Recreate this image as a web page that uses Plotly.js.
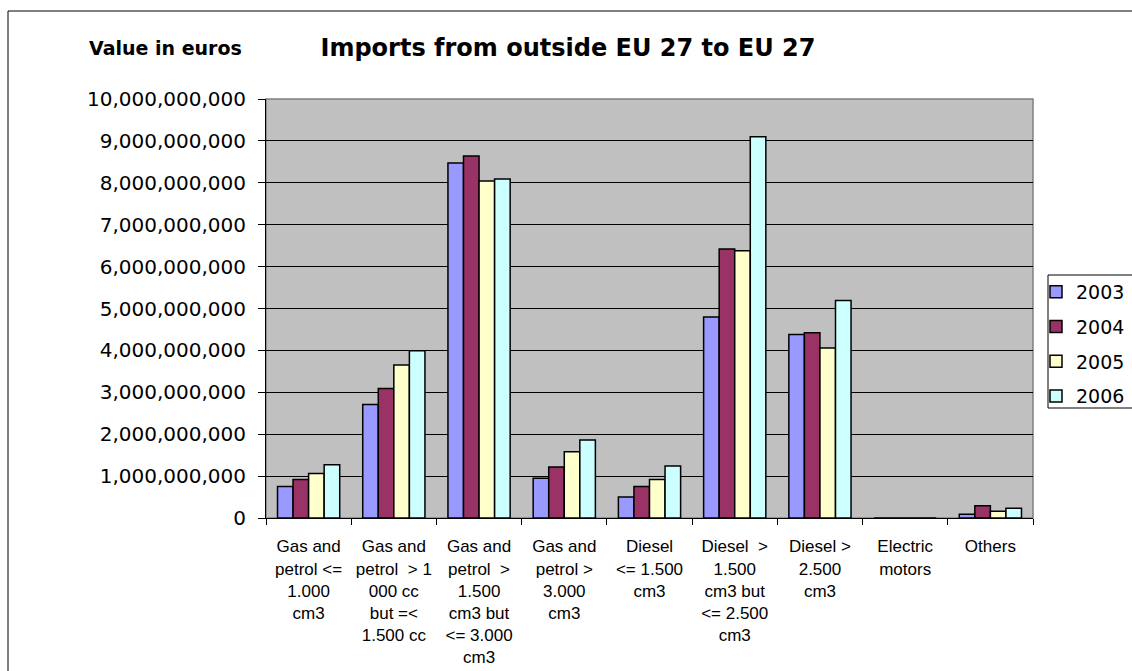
<!DOCTYPE html>
<html>
<head>
<meta charset="utf-8">
<script src="https://cdn.plot.ly/plotly-3.0.1.min.js"></script>
<style>
html,body{margin:0;padding:0;background:#fff;}
#chart{width:1132px;height:671px;}
</style>
</head>
<body>
<div id="chart"></div>
<script>
var categories = [
  "Gas and<br>petrol &lt;=<br>1.000<br>cm3",
  "Gas and<br>petrol  &gt; 1<br>000 cc<br>but =&lt;<br>1.500 cc",
  "Gas and<br>petrol  &gt;<br>1.500<br>cm3 but<br>&lt;= 3.000<br>cm3",
  "Gas and<br>petrol &gt;<br>3.000<br>cm3",
  "Diesel<br>&lt;= 1.500<br>cm3",
  "Diesel  &gt;<br>1.500<br>cm3 but<br>&lt;= 2.500<br>cm3",
  "Diesel &gt;<br>2.500<br>cm3",
  "Electric<br>motors",
  "Others"
];
var years = ["2003", "2004", "2005", "2006"];
var values2003 = [750000000, 2710000000, 8470000000, 950000000, 500000000, 4800000000, 4380000000, 0, 90000000];
var values2004 = [920000000, 3090000000, 8640000000, 1220000000, 750000000, 6420000000, 4420000000, 0, 290000000];
var values2005 = [1060000000, 3650000000, 8040000000, 1580000000, 920000000, 6380000000, 4060000000, 0, 160000000];
var values2006 = [1270000000, 3990000000, 8090000000, 1860000000, 1240000000, 9100000000, 5190000000, 0, 230000000];
var colors = ["#9999FF", "#993366", "#FFFFCC", "#CCFFFF"];

var series = [values2003, values2004, values2005, values2006];
var traces = series.map(function (vals, i) {
  return {
    type: "bar",
    name: years[i],
    x: categories,
    y: vals,
    legendgroup: "g" + i,
    marker: { color: colors[i], line: { color: "#000000", width: 1.5 } },
    hoverinfo: "x+y+name"
  };
});

var L = 266, R = 1033, T = 99, B = 518, W = 1132, H = 671;
function px(x) { return (x - L) / (R - L); }
function py(y) { return (B - y) / (B - T); }

var layout = {
  width: W, height: H,
  margin: { l: L, r: W - R, t: T, b: H - B, autoexpand: false },
  paper_bgcolor: "#ffffff",
  plot_bgcolor: "#C0C0C0",
  font: { family: "DejaVu Sans, Arial, sans-serif", color: "#000000" },
  barmode: "group",
  bargap: 0.27,
  bargroupgap: 0,
  showlegend: true,
  title: {
    text: "<b>Imports from outside EU 27 to EU 27</b>",
    font: { family: "DejaVu Sans, Arial, sans-serif", size: 24, color: "#000000" },
    x: 568 / W, xanchor: "center",
    y: 1 - 48 / H, yanchor: "middle"
  },
  xaxis: {
    type: "category",
    tickson: "boundaries",
    ticks: "outside",
    ticklen: 6,
    tickcolor: "#000000",
    showline: true,
    linecolor: "#000000",
    linewidth: 1,
    showgrid: false,
    ticklabelstandoff: 13,
    tickfont: { family: "Liberation Sans, Arial, sans-serif", size: 17, color: "#000000" },
    tickangle: 0,
    fixedrange: true
  },
  yaxis: {
    range: [0, 10000000000],
    dtick: 1000000000,
    tick0: 0,
    tickformat: ",d",
    ticks: "outside",
    ticklen: 7,
    tickcolor: "#000000",
    showline: true,
    linecolor: "#000000",
    linewidth: 1,
    showgrid: true,
    gridcolor: "#000000",
    gridwidth: 1,
    zeroline: false,
    ticklabelstandoff: 8,
    tickfont: { family: "DejaVu Sans, Arial, sans-serif", size: 20, color: "#000000" },
    fixedrange: true
  },
  legend: {
    x: px(1036), xanchor: "left",
    y: py(273), yanchor: "top",
    borderwidth: 0,
    bgcolor: "rgba(0,0,0,0)",
    font: { family: "DejaVu Sans, Arial, sans-serif", size: 19, color: "#000000" },
    traceorder: "grouped",
    tracegroupgap: 7
  },
  annotations: [
    {
      text: "<b>Value in euros</b>",
      xref: "paper", yref: "paper",
      x: px(165), y: py(48), xanchor: "center", yanchor: "middle",
      showarrow: false,
      font: { family: "DejaVu Sans, Arial, sans-serif", size: 19, color: "#000000" }
    }
  ],
  shapes: [
    {
      type: "rect", xref: "paper", yref: "paper", layer: "above",
      x0: px(8), x1: px(1300), y0: py(690), y1: py(11),
      line: { color: "#000000", width: 1 }, fillcolor: "rgba(0,0,0,0)"
    },
    {
      type: "rect", xref: "paper", yref: "paper", layer: "below",
      x0: px(1048), x1: px(1300), y0: py(408), y1: py(275),
      line: { color: "#000000", width: 1 }, fillcolor: "#ffffff"
    },
    {
      type: "rect", xref: "paper", yref: "paper", layer: "below",
      x0: 0, x1: 1, y0: 0, y1: 1,
      line: { color: "#808080", width: 1.5 }, fillcolor: "rgba(0,0,0,0)"
    }
  ]
};

Plotly.newPlot("chart", traces, layout, { displayModeBar: false, staticPlot: true });
</script>
</body>
</html>
